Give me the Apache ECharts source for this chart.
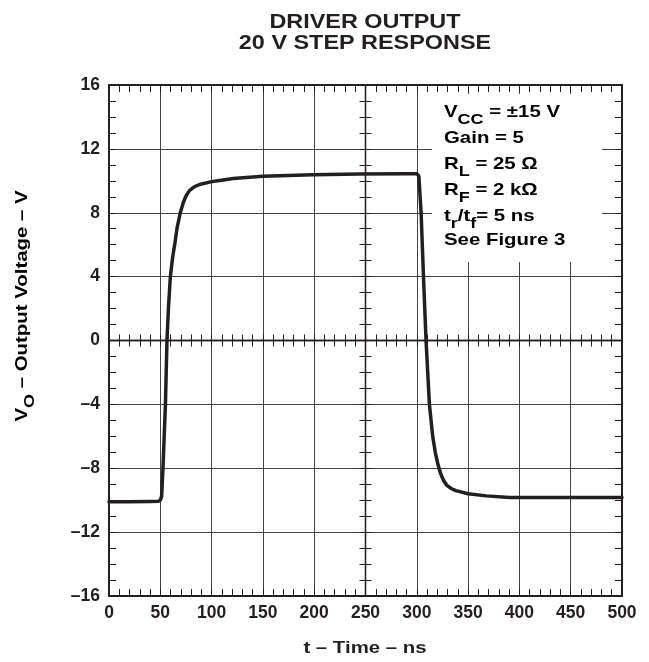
<!DOCTYPE html>
<html>
<head>
<meta charset="utf-8">
<script src="https://cdn.jsdelivr.net/npm/echarts@6/dist/echarts.min.js"></script>
<style>
html,body{margin:0;padding:0;background:#fff;}
#chart{width:649px;height:662px;}
</style>
</head>
<body>
<div id="chart"></div>
<script>
// ---- data ----
var titleLines = ['DRIVER OUTPUT', '20 V STEP RESPONSE'];
var xName = 't \u2013 Time \u2013 ns';
var timeNs = [0, 20, 40, 48, 50, 51.3, 52.6, 55, 56.5, 58, 59.8, 62, 64, 66.5, 69.5, 72, 74, 76, 78.6, 83, 88.3, 100, 108, 121, 150, 199, 244, 290, 300, 302, 304.2, 306.5, 309, 312.3, 315.5, 318, 320.4, 323, 326, 329, 333, 338, 350, 367.7, 390.5, 420, 460, 500];
var voltageV = [-10.1, -10.1, -10.08, -10.07, -10.0, -9.76, -8.0, -4.0, 0, 2.1, 4.0, 5.2, 6.0, 7.1, 8.0, 8.55, 8.9, 9.15, 9.4, 9.62, 9.77, 9.95, 10.02, 10.15, 10.28, 10.38, 10.43, 10.45, 10.45, 10.3, 8.0, 4.0, 0, -4.0, -6.0, -7.0, -7.7, -8.3, -8.75, -9.05, -9.25, -9.4, -9.6, -9.73, -9.83, -9.83, -9.83, -9.83];
var xMin = 0, xMax = 500, xStep = 50;
var yMin = -16, yMax = 16, yStep = 4;
var notes = [
  [['b','V'],['s','CC'],['b',' = \u00b115 V']],
  [['b','Gain = 5']],
  [['b','R'],['s','L'],['b',' = 25 \u03a9']],
  [['b','R'],['s','F'],['b',' = 2 k\u03a9']],
  [['b','t'],['s','r'],['b','/t'],['s','f'],['b','= 5 ns']],
  [['b','See Figure 3']]
];

var pts = timeNs.map(function (t, i) { return [t, voltageV[i]]; });

var INK = '#231f20';
var FONT = '"Liberation Sans", Arial, Helvetica, sans-serif';
var SX = 1.2; // the reference lettering is horizontally wider than Arial
var G = {left: 109, right: 27, top: 85, bottom: 66};
function dash(v) { return v < 0 ? '\u2013' + Math.abs(v) : String(v); }

var grids = [0,1,2,3].map(function () { return {left: G.left, right: G.right, top: G.top, bottom: G.bottom, containLabel: false}; });

function frameX(idx, pos, labels) {
  return {
    gridIndex: idx, type: 'value', min: xMin, max: xMax, interval: xStep, position: pos,
    axisLine: {show: true, onZero: false, lineStyle: {color: INK, width: 2}},
    axisTick: {show: true, inside: true, length: 7, lineStyle: {color: INK, width: 1}},
    minorTick: {show: true, splitNumber: 5, length: 7, lineStyle: {color: INK, width: 1}},
    axisLabel: labels ? {show: true, fontSize: 17.5, fontWeight: 'bold', fontFamily: FONT, color: INK, margin: 8} : {show: false},
    splitLine: {show: labels, lineStyle: {color: '#444', width: 1}}
  };
}
function frameY(idx, pos, labels) {
  return {
    gridIndex: idx, type: 'value', min: yMin, max: yMax, interval: yStep, position: pos,
    axisLine: {show: true, onZero: false, lineStyle: {color: INK, width: 2}},
    axisTick: {show: true, inside: true, length: 7, lineStyle: {color: INK, width: 1}},
    minorTick: {show: true, splitNumber: 4, length: 7, lineStyle: {color: INK, width: 1}},
    axisLabel: labels ? {show: true, fontSize: 17.5, fontWeight: 'bold', fontFamily: FONT, color: INK, margin: 9, formatter: dash} : {show: false},
    splitLine: {show: labels, lineStyle: {color: '#444', width: 1}}
  };
}
function centerX(idx, inside) {
  return {
    gridIndex: idx, type: 'value', min: xMin - (xMax - xMin) / 2, max: (xMax - xMin) / 2, interval: xStep,
    axisLine: {show: true, onZero: true, lineStyle: {color: INK, width: 1.3}},
    axisTick: {show: true, inside: inside, length: 6, lineStyle: {color: INK, width: 1}},
    minorTick: {show: true, splitNumber: 5, length: 6, lineStyle: {color: INK, width: 1}},
    axisLabel: {show: false}, splitLine: {show: false}
  };
}
function centerY(idx, inside) {
  return {
    gridIndex: idx, type: 'value', min: yMin, max: yMax, interval: yStep,
    axisLine: {show: true, onZero: true, lineStyle: {color: INK, width: 1.3}},
    axisTick: {show: true, inside: inside, length: 6, lineStyle: {color: INK, width: 1}},
    minorTick: {show: true, splitNumber: 4, length: 6, lineStyle: {color: INK, width: 1}},
    axisLabel: {show: false}, splitLine: {show: false}
  };
}

var rich = {
  b: {fontSize: 17, fontWeight: 'bold', fontFamily: FONT, color: INK, lineHeight: 20, verticalAlign: 'top'},
  s: {fontSize: 15, fontWeight: 'bold', fontFamily: FONT, color: INK, lineHeight: 18, verticalAlign: 'top', padding: [8, 0, 0, 0]}
};
var noteTops = [104, 130, 156, 182, 208, 232];
var noteEls = notes.map(function (line, i) {
  return {
    type: 'text', position: [444, noteTops[i]], scaleX: SX, z: 20,
    style: {text: line.map(function (p) { return '{' + p[0] + '|' + p[1] + '}'; }).join(''), rich: rich}
  };
});

function plainText(txt, x, y, size) {
  return {type: 'text', z: 20, position: [x, y], scaleX: SX,
    style: {text: txt, fontSize: size, fontWeight: 'bold', fontFamily: FONT, fill: INK, align: 'center', verticalAlign: 'middle'}};
}

var graphics = [
  {type: 'rect', shape: {x: 432, y: 94, width: 170, height: 168}, style: {fill: '#fff'}, z: 10},
  plainText(titleLines[0], 365, 23, 19.5),
  plainText(titleLines[1], 365, 44, 19.5),
  plainText(xName, 365, 648, 17),
  {type: 'text', z: 20, position: [24, 306], rotation: Math.PI / 2, scaleX: SX,
   style: {text: '{b|V}{s|O}{b| \u2013 Output Voltage \u2013 V}', align: 'center', verticalAlign: 'middle',
     rich: {
       b: {fontSize: 17, fontWeight: 'bold', fontFamily: FONT, color: INK, lineHeight: 20, verticalAlign: 'top'},
       s: {fontSize: 15, fontWeight: 'bold', fontFamily: FONT, color: INK, lineHeight: 18, verticalAlign: 'top', padding: [8, 0, 0, 0]}
     }}}
].concat(noteEls);

var chart = echarts.init(document.getElementById('chart'), null, {renderer: 'canvas'});
chart.setOption({
  animation: false,
  backgroundColor: '#fff',
  grid: grids,
  xAxis: [frameX(0, 'bottom', true), frameX(1, 'top', false), centerX(2, true), centerX(3, false)],
  yAxis: [frameY(0, 'left', true), frameY(1, 'right', false), centerY(2, true), centerY(3, false)],
  series: [{
    type: 'line', xAxisIndex: 0, yAxisIndex: 0, data: pts, showSymbol: false, smooth: false,
    lineStyle: {color: INK, width: 3.5, join: 'round', cap: 'round'}, z: 5
  }],
  graphic: graphics
});
</script>
</body>
</html>
